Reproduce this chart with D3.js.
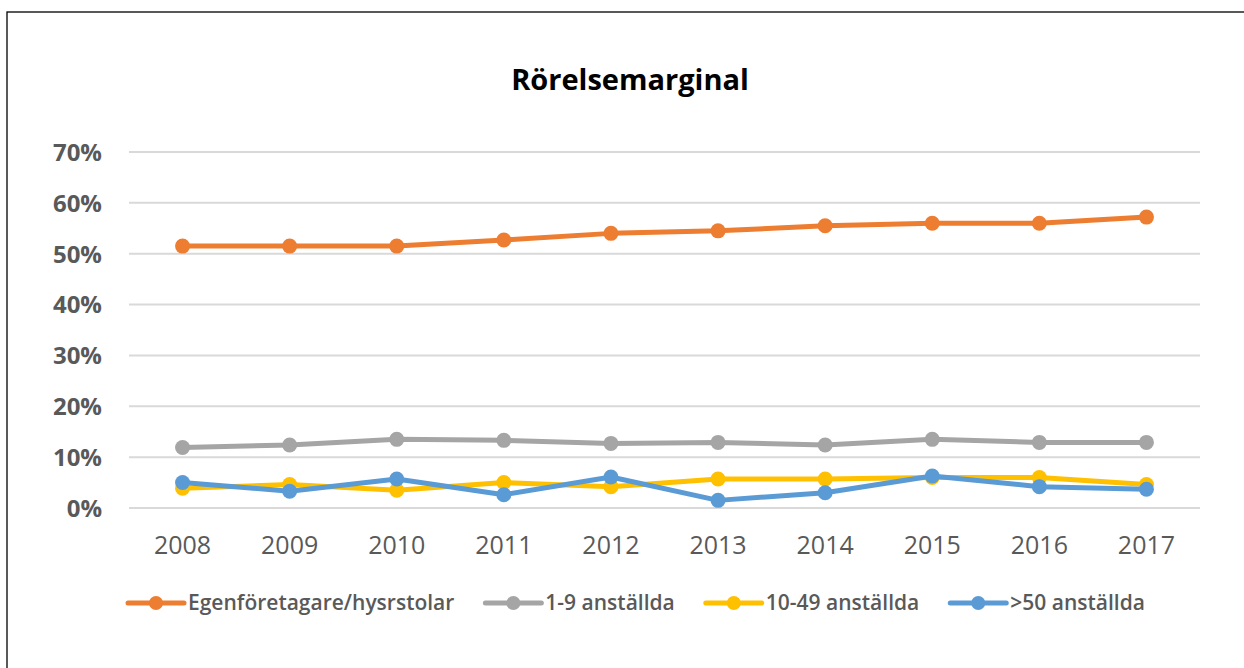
<!DOCTYPE html>
<html>
<head>
<meta charset="utf-8">
<script src="https://cdn.jsdelivr.net/npm/d3@7"></script>
<style>
  body { margin: 0; background: #fff; }
  svg text { font-family: "Open Sans", sans-serif; }
</style>
</head>
<body>
<div id="chart"></div>
<script>
// data
const years = ['2008', '2009', '2010', '2011', '2012', '2013', '2014', '2015', '2016', '2017'];
const seriesNames = ['Egenföretagare/hysrstolar', '1-9 anställda', '10-49 anställda', '>50 anställda'];
const egen   = [51.5, 51.5, 51.5, 52.7, 54.0, 54.5, 55.5, 56.0, 56.0, 57.2];
const small  = [11.9, 12.4, 13.5, 13.3, 12.7, 12.9, 12.4, 13.5, 12.9, 12.9];
const medium = [3.9, 4.6, 3.5, 5.0, 4.2, 5.7, 5.7, 6.0, 6.0, 4.6];
const large  = [5.0, 3.3, 5.7, 2.6, 6.1, 1.5, 3.0, 6.3, 4.2, 3.7];
const yTicks = [0, 10, 20, 30, 40, 50, 60, 70];
const colors = ['#ED7D31', '#A5A5A5', '#FFC000', '#5B9BD5'];

const W = 1244, H = 668;
const margin = { top: 152, left: 129, right: 44, bottom: 160 };

const svg = d3.select('#chart').append('svg')
    .attr('width', W)
    .attr('height', H);

// frame (only left/top visible in the picture)
svg.append('rect')
    .attr('x', 7).attr('y', 12)
    .attr('width', W + 20).attr('height', H + 20)
    .attr('fill', 'none')
    .attr('stroke', '#000')
    .attr('stroke-width', 1.3);

svg.append('text')
    .attr('x', 630).attr('y', 90)
    .attr('text-anchor', 'middle')
    .attr('font-size', 29)
    .attr('font-weight', 700)
    .attr('fill', '#000')
    .text('Rörelsemarginal');

const x = d3.scaleBand()
    .domain(years)
    .range([margin.left, W - margin.right]);

const y = d3.scaleLinear()
    .domain([0, 70])
    .range([H - margin.bottom, margin.top]);

// gridlines
svg.append('g')
    .selectAll('line')
    .data(yTicks)
    .enter()
    .append('line')
    .attr('x1', margin.left)
    .attr('x2', W - margin.right)
    .attr('y1', d => y(d))
    .attr('y2', d => y(d))
    .attr('stroke', '#d9d9d9')
    .attr('stroke-width', 2);

const yAxis = d3.axisLeft(y)
    .tickValues(yTicks)
    .tickFormat(d => d + '%')
    .tickSize(0)
    .tickPadding(27);

svg.append('g')
    .attr('class', 'y axis')
    .attr('transform', 'translate(' + margin.left + ',0)')
    .call(yAxis)
    .call(g => g.select('.domain').remove())
    .selectAll('text')
    .attr('font-size', 24)
    .attr('font-weight', 700)
    .attr('fill', '#595959')
    .attr('dy', '0.35em');

const xAxis = d3.axisBottom(x)
    .tickSize(0)
    .tickPadding(28);

svg.append('g')
    .attr('class', 'x axis')
    .attr('transform', 'translate(0,' + (H - margin.bottom) + ')')
    .call(xAxis)
    .call(g => g.select('.domain').remove())
    .selectAll('text')
    .attr('font-size', 25)
    .attr('fill', '#595959');

const allSeries = [egen, small, medium, large];
const line = d3.line()
    .x((d, i) => x(years[i]) + x.bandwidth() / 2)
    .y(d => y(d));

allSeries.forEach((vals, k) => {
  const g = svg.append('g');
  g.append('path')
      .datum(vals)
      .attr('d', line)
      .attr('fill', 'none')
      .attr('stroke', colors[k])
      .attr('stroke-width', 5)
      .attr('stroke-linejoin', 'round')
      .attr('stroke-linecap', 'round');
  g.selectAll('circle')
      .data(vals)
      .enter()
      .append('circle')
      .attr('cx', (d, i) => x(years[i]) + x.bandwidth() / 2)
      .attr('cy', d => y(d))
      .attr('r', 7.5)
      .attr('fill', colors[k]);
});

// legend
const legend = svg.append('g').attr('transform', 'translate(0,603)');
let lx = 128;
seriesNames.forEach((name, k) => {
  const item = legend.append('g').attr('transform', 'translate(' + lx + ',0)');
  item.append('line')
      .attr('x1', 0).attr('x2', 56)
      .attr('stroke', colors[k])
      .attr('stroke-width', 5)
      .attr('stroke-linecap', 'round');
  item.append('circle')
      .attr('cx', 28).attr('r', 7)
      .attr('fill', colors[k]);
  const t = item.append('text')
      .attr('x', 60)
      .attr('dy', '0.35em')
      .attr('font-size', 21)
      .attr('font-weight', 600)
      .attr('fill', '#595959')
      .text(name);
  lx += 60 + t.node().getComputedTextLength() + 31;
});
</script>
</body>
</html>
